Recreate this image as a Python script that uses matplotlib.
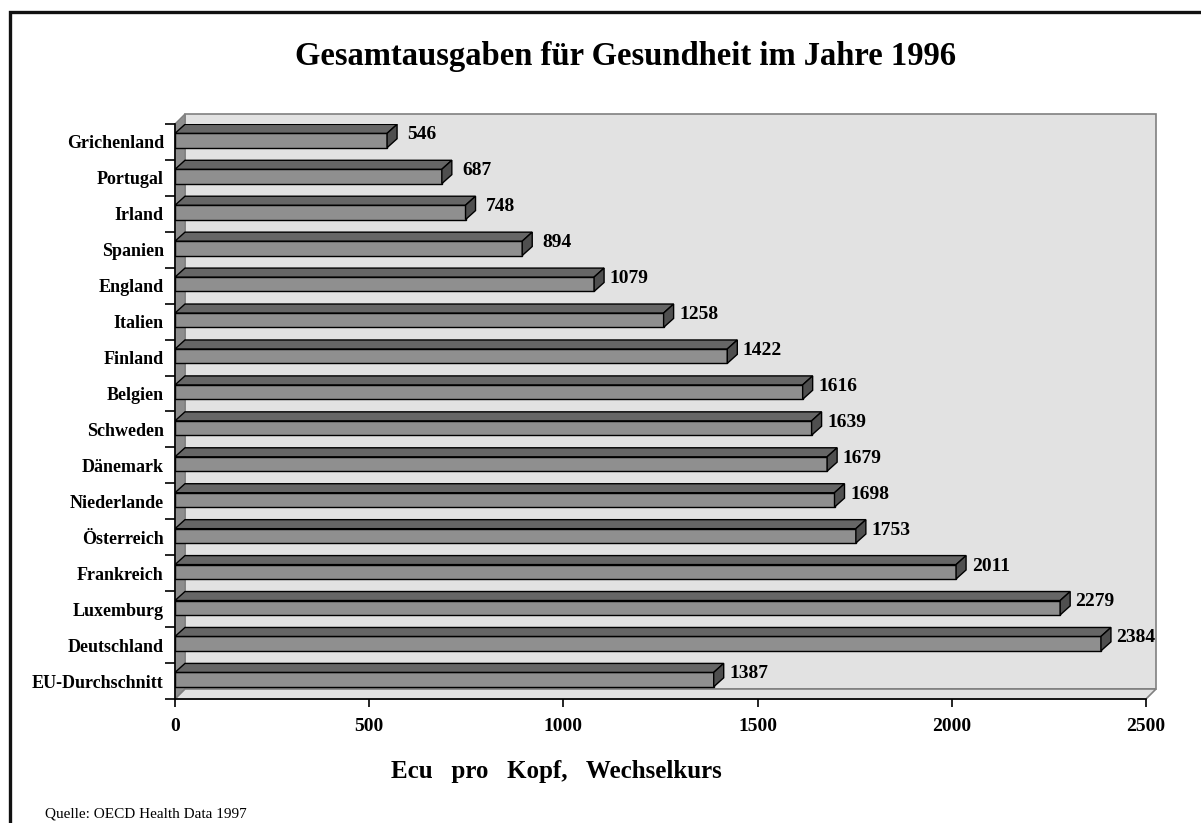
# health spending per head, EU 1996 - 3D-look horizontal bar chart
import matplotlib.pyplot as plt
from matplotlib.patches import Polygon, Rectangle

# data
countries = ["Grichenland", "Portugal", "Irland", "Spanien", "England",
             "Italien", "Finland", "Belgien", "Schweden", "Dänemark",
             "Niederlande", "Österreich", "Frankreich", "Luxemburg",
             "Deutschland", "EU-Durchschnitt"]
values = [546, 687, 748, 894, 1079, 1258, 1422, 1616, 1639, 1679,
          1698, 1753, 2011, 2279, 2384, 1387]
xticks = [0, 500, 1000, 1500, 2000, 2500]

W, H = 1201, 823
fig = plt.figure(figsize=(W / 100, H / 100), dpi=100)
plt.rcParams['font.family'] = ['Liberation Serif', 'DejaVu Serif']

# axes placed in pixel terms of the original
x0, x1 = 175, 1146
ybot, ytop = 699, 124
ax = fig.add_axes([x0 / W, (H - ybot) / H, (x1 - x0) / W, (ybot - ytop) / H])
n = len(countries)
xmax = 2500
ax.set_xlim(0, xmax)
ax.set_ylim(-0.5, n - 0.5)

px_x = (x1 - x0) / xmax          # pixels per data unit
px_y = (ybot - ytop) / n         # pixels per category
dx = 10 / px_x                   # depth offset in data units
dy = 10 / px_y

wall = '#e2e2e2'
side = '#8e8e8e'
edge = '#808080'

# back wall, left side wall and floor
ax.add_patch(Polygon([(dx, -0.5 + dy), (xmax + dx, -0.5 + dy),
                      (xmax + dx, n - 0.5 + dy), (dx, n - 0.5 + dy)],
                     closed=True, fc=wall, ec=edge, lw=1.2, clip_on=False, zorder=1))
ax.add_patch(Polygon([(0, -0.5), (dx, -0.5 + dy), (dx, n - 0.5 + dy), (0, n - 0.5)],
                     closed=True, fc=side, ec=edge, lw=1, clip_on=False, zorder=1))
ax.add_patch(Polygon([(0, -0.5), (xmax, -0.5), (xmax + dx, -0.5 + dy), (dx, -0.5 + dy)],
                     closed=True, fc=wall, ec=edge, lw=1.2, clip_on=False, zorder=1))

# bars: front, top and end faces
ypos = [n - 1 - i for i in range(n)]
for y, v in zip(ypos, values):
    fb, ft = y - 0.16, y + 0.24
    bdy = 9 / px_y
    ax.add_patch(Polygon([(0, fb), (v, fb), (v, ft), (0, ft)],
                         closed=True, fc='#8f8f8f', ec='black', lw=1, zorder=3))
    ax.add_patch(Polygon([(0, ft), (v, ft), (v + dx, ft + bdy), (dx, ft + bdy)],
                         closed=True, fc='#666666', ec='black', lw=1, zorder=3))
    ax.add_patch(Polygon([(v, fb), (v, ft), (v + dx, ft + bdy), (v + dx, fb + bdy)],
                         closed=True, fc='#4f4f4f', ec='black', lw=1, zorder=3))
    ax.text(v + dx + 25 / px_x, y + 0.2, str(v), ha='center', va='center',
            fontsize=14, fontweight='bold', zorder=4)

# axes lines and ticks
for s in ['top', 'right']:
    ax.spines[s].set_visible(False)
ax.spines['left'].set_linewidth(1.2)
ax.spines['bottom'].set_linewidth(1.2)
ax.spines['left'].set_zorder(5)
ax.spines['bottom'].set_zorder(5)

ax.set_yticks(ypos)
ax.set_yticklabels(countries, fontsize=13, fontweight='bold')
ax.tick_params(axis='y', which='major', length=0, pad=8)
ax.set_yticks([k - 0.5 for k in range(n + 1)], minor=True)
ax.tick_params(axis='y', which='minor', length=7, width=1.2, direction='out')

ax.set_xticks(xticks)
ax.set_xticklabels([str(t) for t in xticks], fontsize=14, fontweight='bold')
ax.tick_params(axis='x', length=6, width=1.2, pad=8)

ax.set_xlabel('Ecu   pro   Kopf,   Wechselkurs', fontsize=18, fontweight='bold')
ax.xaxis.set_label_coords((556 - x0) / (x1 - x0), -(760 - ybot) / (ybot - ytop))

fig.text(626 / W, 1 - 57 / H, 'Gesamtausgaben für Gesundheit im Jahre 1996',
         ha='center', va='center', fontsize=23.5, fontweight='bold')
fig.text(45 / W, 1 - 821 / H, 'Quelle: OECD Health Data 1997',
         ha='left', va='bottom', fontsize=11)

# outer frame (cut off at right and bottom like the original)
fig.patches.append(Rectangle((10 / W, -0.1), 1.2, 1.1 - 12 / H,
                             transform=fig.transFigure, fill=False,
                             ec='#111111', lw=2.4))

fig.savefig('out.png', dpi=100)
